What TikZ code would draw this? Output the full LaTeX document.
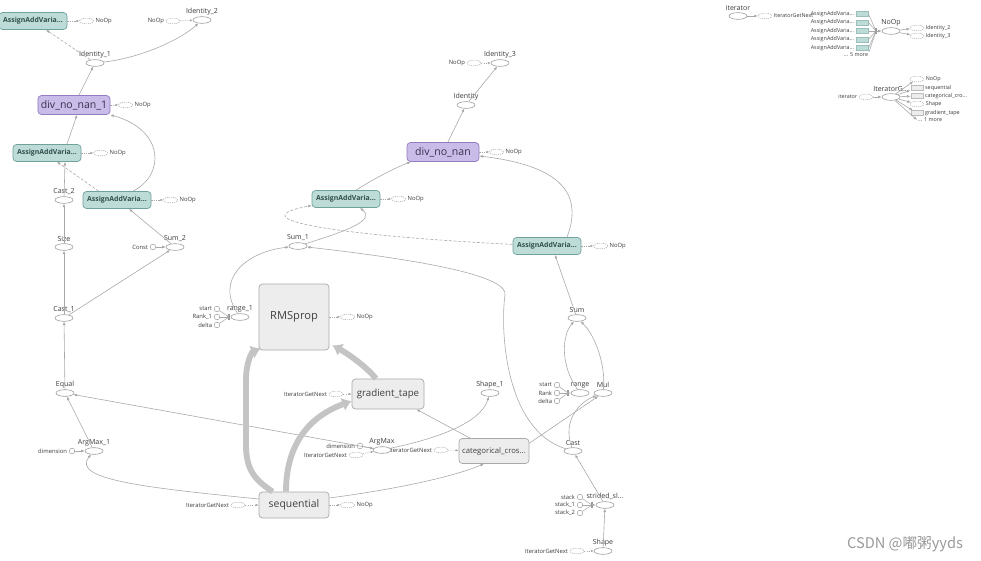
\documentclass[tikz,border=0pt]{standalone}
\usepackage{fontspec}
\setmainfont{Open Sans}
\newfontfamily\cjkfont{Noto Sans CJK SC}
\usetikzlibrary{arrows.meta,positioning,shapes.geometric,calc}
\definecolor{edgegrey}{HTML}{A8A8A8}
\definecolor{fatgrey}{HTML}{C4C4C4}
\definecolor{opline}{HTML}{9A9A9A}
\definecolor{tealfill}{HTML}{BDDCD8}
\definecolor{tealline}{HTML}{6FA29D}
\definecolor{tealtext}{HTML}{2F4F4C}
\definecolor{lilac}{HTML}{C9BCE8}
\definecolor{lilacline}{HTML}{927CC2}
\definecolor{lilactext}{HTML}{3A3050}
\definecolor{boxfill}{HTML}{EDEDED}
\definecolor{boxline}{HTML}{A9A9A9}
\definecolor{boxtext}{HTML}{404040}
\definecolor{inktext}{HTML}{3C3C3C}
\definecolor{markgrey}{HTML}{9A9A9A}

\begin{document}
\begin{tikzpicture}[x=0.03cm,y=-0.03cm,
  link/.style={draw=edgegrey,line width=0.5pt,-{Latex[length=3pt,width=2.4pt]}},
  dlink/.style={link,dash pattern=on 2.5pt off 1.5pt},
  clink/.style={draw=edgegrey,line width=0.4pt,dash pattern=on 1pt off 1pt,-{Latex[length=2.5pt,width=2pt]}},
  thinline/.style={draw=edgegrey,line width=0.45pt},
  joinbar/.style={draw=opline,line width=1.6pt},
  fat/.style={draw=fatgrey,line width=5pt,-{Latex[length=8pt,width=12pt]}},
  tiny/.style={font=\fontsize{5}{5}\selectfont,text=inktext,inner sep=0.8pt},
  tinier/.style={font=\fontsize{4.6}{5}\selectfont,text=inktext,inner sep=0.6pt},
  lbl/.style={font=\fontsize{6}{6}\selectfont,text=inktext,inner sep=0.5pt},
  op/.style={ellipse,draw=opline,fill=white,minimum width=0.54cm,minimum height=0.2cm,inner sep=0pt,line width=0.5pt},
  ctl/.style={ellipse,draw=opline,dash pattern=on 1pt off 0.8pt,minimum width=0.42cm,minimum height=0.17cm,inner sep=0pt,line width=0.35pt},
  cst/.style={circle,draw=opline,fill=white,minimum size=0.17cm,inner sep=0pt,line width=0.4pt},
  grp/.style={draw=boxline,fill=boxfill,rounded corners=3pt,text=boxtext,inner sep=0pt,line width=0.6pt},
  assign/.style={grp,draw=tealline,fill=tealfill,text=tealtext,minimum width=2.04cm,minimum height=0.51cm,font=\fontsize{5.9}{6}\selectfont\bfseries},
  divbox/.style={grp,draw=lilacline,fill=lilac,text=lilactext,minimum width=2.16cm,minimum height=0.57cm,font=\fontsize{9}{9}\selectfont},
  minirect/.style={draw=tealline!70,fill=tealfill,minimum width=0.38cm,minimum height=0.14cm,inner sep=0pt,line width=0.3pt},
  greyrect/.style={minirect,draw=boxline!80,fill=boxfill},
  label distance=0.6pt]
  \fill[white] (0,0) rectangle (981,561);
  \useasboundingbox (0,0) rectangle (981,561);

  % left column
  \node[assign] (asgA) at (33,21) {AssignAddVaria...};
  \node[ctl,right=0.36cm of asgA,label={[tiny]right:NoOp}] (asgAn) {};
  \node[op,label={[lbl]above:Identity\_2}] (idtwo) at (202,20) {};
  \node[ctl,label={[tiny]left:NoOp}] (idtwoc) at (173,21) {};
  \node[op,label={[lbl]above:Identity\_1}] (idone) at (95,63) {};
  \node[divbox] (dnnone) at (74,105) {div\_no\_nan\_1};
  \node[ctl,right=0.24cm of dnnone,label={[tiny]right:NoOp}] (dnnonen) {};
  \node[assign] (asgB) at (47,153) {AssignAddVaria...};
  \node[ctl,right=0.36cm of asgB,label={[tiny]right:NoOp}] (asgBn) {};
  \node[assign] (asgC) at (117,200) {AssignAddVaria...};
  \node[ctl,right=0.36cm of asgC,label={[tiny]right:NoOp}] (asgCn) {};
  \node[op,label={[lbl]above:Cast\_2}] (casttwo) at (64,200) {};
  \node[op,label={[lbl]above:Size}] (size) at (64,247) {};
  \node[op,label={[lbl]above:Sum\_2}] (sumtwo) at (175,247) {};
  \node[cst,label={[tiny]left:Const}] (const) at (153,247) {};
  \node[op,label={[lbl]above:Cast\_1}] (castone) at (64,318) {};
  \node[op,label={[lbl]above:Equal}] (equal) at (65,393) {};
  \node[op,label={[lbl]above:ArgMax\_1}] (amaxone) at (94,451) {};
  \node[cst,label={[tiny]left:dimension}] (dimone) at (72,451) {};

  % middle column
  \node[op,label={[lbl]above:Identity\_3}] (idthree) at (500,63) {};
  \node[ctl,label={[tiny]left:NoOp}] (idthreec) at (474,63) {};
  \node[op,label={[lbl]above:Identity}] (ident) at (466,105) {};
  \node[divbox] (dnn) at (443,152) {div\_no\_nan};
  \node[ctl,right=0.3cm of dnn,label={[tiny]right:NoOp}] (dnnn) {};
  \node[assign] (asgD) at (346,199) {AssignAddVaria...};
  \node[ctl,right=0.33cm of asgD,label={[tiny]right:NoOp}] (asgDn) {};
  \node[assign] (asgE) at (547,246) {AssignAddVaria...};
  \node[ctl,right=0.36cm of asgE,label={[tiny]right:NoOp}] (asgEn) {};
  \node[op,label={[lbl]above:Sum\_1}] (sumone) at (298,246) {};
  \node[op,label={[lbl]above:range\_1}] (rangeone) at (240,317) {};
  \coordinate (jr1) at (229,317);
  \foreach \nm/\txt/\yy in {st/start/309,rk/Rank\_1/317,dl/delta/325}{
    \node[cst,label={[tiny]left:\txt}] (\nm1) at (217,\yy) {};
    \draw[thinline] (\nm1) -- (jr1);
  }

  \node[grp,minimum width=2.1cm,minimum height=1.98cm,font=\fontsize{9.5}{10}\selectfont] (rms) at (294,317) {RMSprop};
  \node[ctl,right=0.33cm of rms,label={[tiny]right:NoOp}] (rmsn) {};
  \node[grp,minimum width=2.16cm,minimum height=0.9cm,font=\fontsize{8.3}{9}\selectfont] (gtape) at (388,394) {gradient\_tape};
  \node[ctl,label={[tiny]left:IteratorGetNext}] (gtapec) at (336,394) {};
  \node[grp,minimum width=2.1cm,minimum height=0.78cm,font=\fontsize{8.9}{9}\selectfont] (seq) at (294,505) {sequential};
  \node[ctl,label={[tiny]left:IteratorGetNext}] (seqc) at (238,505) {};
  \node[ctl,right=0.33cm of seq,label={[tiny]right:NoOp}] (seqn) {};
  \node[grp,minimum width=2.1cm,minimum height=0.75cm,font=\fontsize{6.6}{7}\selectfont] (cat) at (494,451) {categorical\_cros...};
  \node[ctl,label={[tiny]left:IteratorGetNext}] (catc) at (441,450) {};
  \node[op,label={[lbl]above:ArgMax}] (amax) at (382,450) {};
  \node[cst,label={[tiny]left:dimension}] (dim) at (360,446) {};
  \node[ctl,label={[tiny]left:IteratorGetNext}] (amaxc) at (356,455) {};
  \node[op,label={[lbl]above:Shape\_1}] (shapeone) at (490,393) {};

  % right column
  \node[op,label={[lbl]above:Sum}] (sum) at (577,318) {};
  \node[op,label={[lbl]above:range}] (range) at (580,393) {};
  \node[op,label={[lbl]above:Mul}] (mul) at (603,393) {};
  \coordinate (jr2) at (568,393);
  \foreach \nm/\txt/\yy in {st/start/385,rk/Rank/393,dl/delta/401}{
    \node[cst,label={[tiny]left:\txt}] (\nm2) at (557,\yy) {};
    \draw[thinline] (\nm2) -- (jr2);
  }
  \node[op,label={[lbl]above:Cast}] (cast) at (573,451) {};
  \node[op,label={[lbl]above:strided\_sl...}] (strided) at (605,505) {};
  \coordinate (jr3) at (592,505);
  \foreach \nm/\txt/\yy in {sa/stack/497,sb/stack\_1/505,sc/stack\_2/513}{
    \node[cst,label={[tiny]left:\txt}] (\nm) at (580,\yy) {};
    \draw[thinline] (\nm) -- (jr3);
  }
  \node[op,label={[lbl]above:Shape}] (shape) at (603,551) {};
  \node[ctl,label={[tiny]left:IteratorGetNext}] (shapec) at (577,551) {};

  \foreach \j in {jr1,jr2,jr3}
    \draw[joinbar] ($(\j)+(0,-3)$) -- ($(\j)+(0,3)$);

  % control links
  \foreach \a/\b in {asgA/asgAn,idtwoc/idtwo,dnnone/dnnonen,asgB/asgBn,asgC/asgCn,
    idthreec/idthree,dnn/dnnn,asgD/asgDn,asgE/asgEn,rms/rmsn,gtapec/gtape,
    seqc/seq,seq/seqn,catc/cat,amaxc/amax,shapec/shape}
    \draw[clink] (\a) -- (\b);

  % data links
  \foreach \a/\b in {dnnone/idone,size/casttwo,const/sumtwo,castone/size,castone/sumtwo,
    equal/castone,amaxone/equal,dimone/amaxone,ident/idthree,dnn/ident,dim/amax,
    jr1/rangeone,jr2/range,jr3/strided,shape/strided,strided/cast,cat/gtape,amax/equal}
    \draw[link] (\a) -- (\b);
  \draw[link] (idone) .. controls (140,58) and (180,40) .. (idtwo);
  \draw[dlink] (idone) -- (asgA);
  \draw[link] ($(asgB.north)+(20,0)$) -- ($(dnnone.south)+(3,0)$);
  \draw[link] ($(asgC.north)+(16,0)$) .. controls (165,175) and (165,130) .. (dnnone.south east);
  \draw[dlink] ($(asgC.north west)+(16,0)$) -- ($(asgB.south)+(10,0)$);
  \draw[link] (casttwo) -- ($(asgB.south)+(18,0)$);
  \draw[link] (sumtwo) -- ($(asgC.south)+(12,0)$);
  \draw[link] ($(seq.west)+(0,-6)$) .. controls (150,488) and (70,480) .. (amaxone);

  \draw[link] ($(asgD.north)+(10,0)$) .. controls (375,178) and (395,168) .. ($(dnn.south west)+(4,0)$);
  \draw[link] ($(asgE.north)+(20,0)$) .. controls (585,190) and (555,165) .. ($(dnn.east)+(0,4)$);
  \draw[dlink] (asgE) .. controls (380,238) and (225,222) .. (asgD);
  \draw[link] (sumone) .. controls (350,230) and (375,220) .. ($(asgD.south)+(14,0)$);
  \draw[link] (rangeone) .. controls (215,280) and (245,252) .. (sumone);
  \draw[link] (cast) .. controls (505,430) and (500,330) .. (505,295)
    .. controls (508,278) and (440,262) .. (sumone);
  \draw[link] (sum) -- ($(asgE.south)+(8,0)$);
  \draw[link] (range) .. controls (560,365) and (562,335) .. (sum);
  \draw[link] (mul) .. controls (606,365) and (595,335) .. (sum);
  \draw[link] (cast) .. controls (562,420) and (580,402) .. (mul);
  \draw[link] ($(cat.north east)+(0,5)$) -- (mul);
  \draw[link] (amax) .. controls (430,440) and (480,425) .. (shapeone);
  \draw[link] ($(seq.east)+(0,-7)$) .. controls (390,490) and (450,478) .. ($(cat.south)+(-10,0)$);

  % heavy links
  \draw[fat] ($(seq.north west)+(14,0)$) .. controls (255,480) and (246,470) .. (246,445)
    -- (246,380) .. controls (246,362) and (252,352) .. ($(rms.south west)+(2,-2)$);
  \draw[fat] ($(seq.north)+(-8,0)$) .. controls (286,455) and (300,420) .. ($(gtape.west)+(0,7)$);
  \draw[fat] ($(gtape.north)+(-12,0)$) .. controls (365,365) and (345,352) .. ($(rms.south east)+(3,-5)$);

  % summary, top right
  \node[op,label={[lbl]above:iterator}] (itera) at (738,16) {};
  \node[ctl,label={[tinier]right:IteratorGetNext}] (iterac) at (765,16) {};
  \draw[link] (itera) -- (iterac);
  \coordinate (jn) at (876,31);
  \foreach \i/\yy in {1/14,2/22.5,3/31,4/39.5,5/48}{
    \node[minirect] (row\i) at (862,\yy) {};
    \node[tinier,left=0.5pt of row\i] (rowl\i) {AssignAddVaria...};
    \draw[thinline] (row\i.east) -- (jn);
  }
  \node[tinier] (more) at (856,55) {... 5 more};
  \draw[thinline] (more.north east) -- (jn);
  \draw[joinbar] ($(jn)+(0,-3)$) -- ($(jn)+(0,3)$);
  \node[op,label={[lbl]above:NoOp}] (noopx) at (891,31) {};
  \node[ctl,label={[tinier]right:Identity\_2}] (outa) at (917,28) {};
  \node[ctl,label={[tinier]right:Identity\_3}] (outb) at (917,36) {};
  \draw[link] (jn) -- (noopx);
  \draw[link] (noopx) -- (outa);
  \draw[link] (noopx) -- (outb);

  \node[ctl,label={[tinier]left:iterator}] (iterbc) at (866,97) {};
  \node[op,label={[lbl]above:IteratorG...}] (iterg) at (891,97) {};
  \draw[link] (iterbc) -- (iterg);
  \node[ctl,label={[tinier]right:NoOp}] (og1) at (917,79) {};
  \node[greyrect,label={[tinier]right:sequential}] (og2) at (917,88) {};
  \node[greyrect,label={[tinier]right:categorical\_cro...}] (og3) at (917,96) {};
  \node[ctl,label={[tinier]right:Shape}] (og4) at (917,104) {};
  \node[greyrect,label={[tinier]right:gradient\_tape}] (og5) at (917,113) {};
  \node[tinier] (ogmore) at (930,120) {... 1 more};
  \foreach \i in {1,...,5}
    \draw[link] (iterg) -- (og\i);
  \draw[link] (iterg) -- (ogmore.west);

  \node[font=\cjkfont\fontsize{12.5}{13}\selectfont,text=markgrey] (mark) at (905,544) {CSDN @嘟粥yyds};
\end{tikzpicture}
\end{document}
